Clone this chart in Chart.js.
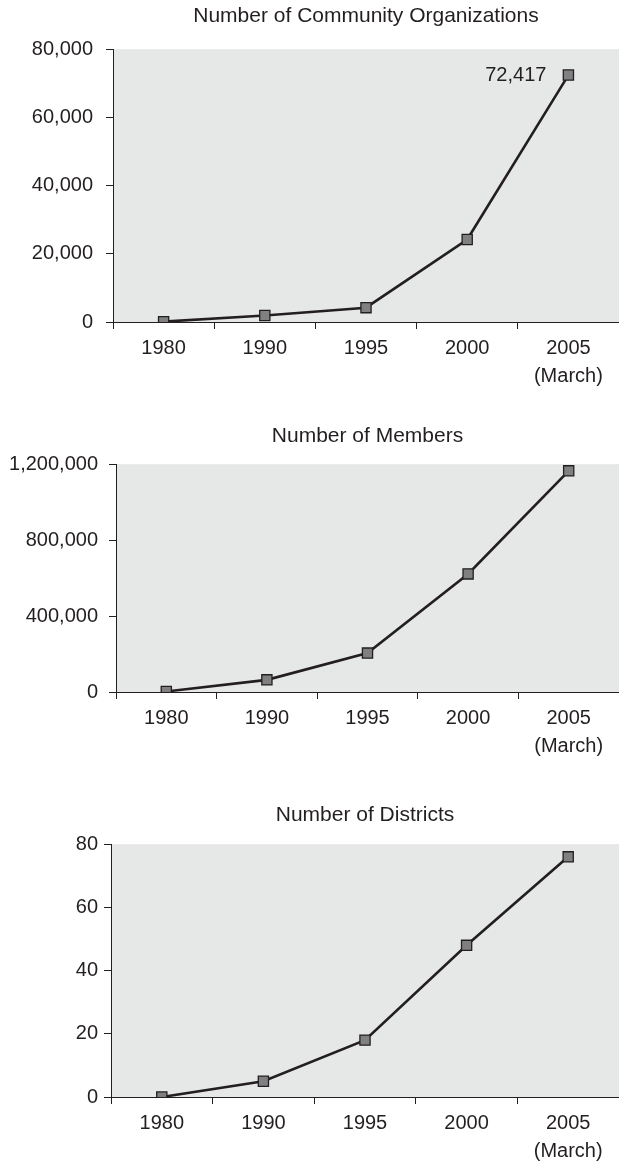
<!DOCTYPE html>
<html>
<head>
<meta charset="utf-8">
<script src="https://cdn.jsdelivr.net/npm/chart.js@4"></script>
<style>
  body { margin: 0; background: #fff; width: 619px; height: 1162px; position: relative; overflow: hidden; }
  .box { position: absolute; left: 0; width: 619px; }
</style>
</head>
<body>
<div class="box" style="top:0px;height:392px"><canvas id="orgs" width="619" height="392"></canvas></div>
<div class="box" style="top:420px;height:342px"><canvas id="members" width="619" height="342"></canvas></div>
<div class="box" style="top:799px;height:368px"><canvas id="districts" width="619" height="368"></canvas></div>
<script>
const years = ['1980', '1990', '1995', '2000', ['2005', '(March)']];
const orgCounts = [100, 1900, 4200, 24200, 72417];
const memberCounts = [3000, 64000, 205000, 622000, 1165000];
const districtCounts = [0, 5, 18, 48, 76];

const dark = '#231f20';
const plotBg = '#e6e7e7';
const fontFamily = '"Liberation Sans", Arial, Helvetica, sans-serif';

Chart.defaults.font.family = fontFamily;
Chart.defaults.color = dark;

// gray plot area behind the line
const plotFill = {
    id: 'plotFill',
    beforeDraw(chart) {
        const a = chart.chartArea, ctx = chart.ctx;
        ctx.save();
        ctx.fillStyle = plotBg;
        ctx.fillRect(a.left, a.top, a.right - a.left, a.bottom - a.top);
        ctx.restore();
    }
};

// value written next to the last point (only the first chart)
const lastLabel = {
    id: 'lastLabel',
    afterDatasetsDraw(chart, args, opts) {
        if (!opts.show) return;
        const pts = chart.getDatasetMeta(0).data;
        const p = pts[pts.length - 1];
        const vals = chart.data.datasets[0].data;
        const ctx = chart.ctx;
        ctx.save();
        ctx.font = '20px ' + fontFamily;
        ctx.fillStyle = dark;
        ctx.textAlign = 'right';
        ctx.textBaseline = 'middle';
        ctx.fillText(vals[vals.length - 1].toLocaleString('en-US'), p.x - 22, p.y);
        ctx.restore();
    }
};

function makeChart(id, title, values, yMax, step, axisX, labelPad, titleBottom, showLast) {
    return new Chart(document.getElementById(id), {
        type: 'line',
        data: {
            labels: years,
            datasets: [{
                data: values,
                borderColor: dark,
                borderWidth: 2.6,
                tension: 0,
                pointStyle: 'rect',
                pointRadius: 7.2,
                pointBackgroundColor: '#808082',
                pointBorderColor: dark,
                pointBorderWidth: 1.3
            }]
        },
        options: {
            responsive: false,
            animation: false,
            layout: { padding: 0, autoPadding: false },
            plugins: {
                legend: { display: false },
                tooltip: { enabled: false },
                title: {
                    display: true,
                    text: title,
                    fullSize: false,
                    color: dark,
                    font: { size: 21, weight: 'normal', lineHeight: 1.2 },
                    padding: { top: 4, bottom: titleBottom }
                },
                lastLabel: { show: showLast }
            },
            scales: {
                x: {
                    offset: true,
                    grid: { offset: true, drawOnChartArea: false, tickLength: 7, color: dark, lineWidth: 1 },
                    border: { color: dark, width: 1 },
                    ticks: { padding: 5, maxRotation: 0, autoSkip: false, color: dark, font: { size: 20, lineHeight: 1.4 } },
                    afterFit: s => { s.height = 70; s.paddingLeft = 0; s.paddingRight = 0; }
                },
                y: {
                    min: 0,
                    max: yMax,
                    grid: { drawOnChartArea: false, tickLength: 7, color: dark, lineWidth: 1 },
                    border: { color: dark, width: 1 },
                    ticks: {
                        stepSize: step,
                        padding: labelPad,
                        color: dark,
                        font: { size: 20 },
                        callback: v => v.toLocaleString('en-US')
                    },
                    afterFit: s => { s.width = axisX; }
                }
            }
        },
        plugins: [plotFill, lastLabel]
    });
}

makeChart('orgs', 'Number of Community Organizations', orgCounts, 80000, 20000, 113, 13, 20, true);
makeChart('members', 'Number of Members', memberCounts, 1200000, 400000, 116, 11, 15, false);
makeChart('districts', 'Number of Districts', districtCounts, 80, 20, 111, 6, 16, false);
</script>
</body>
</html>
